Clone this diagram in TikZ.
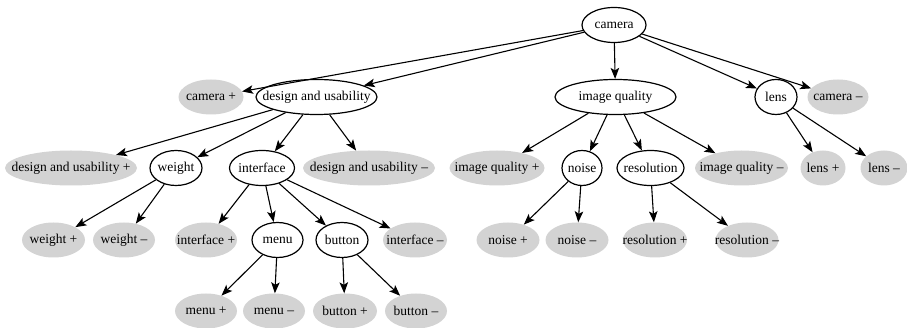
\documentclass[tikz,border=0pt]{standalone}
\usepackage{fontspec}
\setmainfont{Liberation Serif}
\usetikzlibrary{shapes.geometric,arrows.meta}
\definecolor{leafgray}{RGB}{211,211,211}
\newcommand\zl[1]{\makebox[0pt]{#1}}
\tikzset{
  base/.style={ellipse, inner sep=0pt, minimum height=35pt, font=\fontsize{13.5}{15}\selectfont},
  inner/.style={base, draw, line width=1.2pt, fill=white},
  leaf/.style={base, fill=leafgray},
  conn/.style={line width=1.1pt, -{Stealth[length=11pt, width=8.5pt, inset=2.5pt]}}
}
\begin{document}
\begin{tikzpicture}[x=1pt,y=-1pt]
\useasboundingbox (0,0) rectangle (907,328);
% row 1
\node[inner, minimum width=64pt] (cam) at (614,25) {\zl{camera}};
% row 2
\node[leaf, minimum width=65pt] (camp) at (211,97) {\zl{camera +}};
\node[inner, minimum width=121pt] (dau) at (316.5,97) {\zl{design and usability}};
\node[inner, minimum width=121pt] (iq) at (615.5,97) {\zl{image quality}};
\node[inner, minimum width=42pt] (lens) at (776,97) {\zl{lens}};
\node[leaf, minimum width=61pt] (camm) at (838,97) {\zl{camera --}};
% row 3
\node[leaf, minimum width=132pt] (daup) at (71,168) {\zl{design and usability +}};
\node[inner, minimum width=52pt] (wt) at (176,168) {\zl{weight}};
\node[inner, minimum width=65pt] (intf) at (262,168) {\zl{interface}};
\node[leaf, minimum width=132pt] (daum) at (369,168) {\zl{design and usability --}};
\node[leaf, minimum width=95pt] (iqp) at (497,168) {\zl{image quality +}};
\node[inner, minimum width=40pt] (noise) at (582,168) {\zl{noise}};
\node[inner, minimum width=67pt] (res) at (650.5,168) {\zl{resolution}};
\node[leaf, minimum width=93pt] (iqm) at (741.5,168) {\zl{image quality --}};
\node[leaf, minimum width=45pt] (lensp) at (823,168) {\zl{lens +}};
\node[leaf, minimum width=47pt] (lensm) at (884,168) {\zl{lens --}};
% row 4
\node[leaf, minimum width=63pt] (wtp) at (53.5,240) {\zl{weight +}};
\node[leaf, minimum width=62pt] (wtm) at (124,240) {\zl{weight --}};
\node[leaf, minimum width=62pt] (intfp) at (206,240) {\zl{interface +}};
\node[inner, minimum width=51pt] (menu) at (277.5,240) {\zl{menu}};
\node[inner, minimum width=52pt] (btn) at (342,240) {\zl{button}};
\node[leaf, minimum width=64pt] (intfm) at (415,240) {\zl{interface --}};
\node[leaf, minimum width=63pt] (noisep) at (508,240) {\zl{noise +}};
\node[leaf, minimum width=63pt] (noisem) at (577,240) {\zl{noise --}};
\node[leaf, minimum width=64pt] (resp) at (655,240) {\zl{resolution +}};
\node[leaf, minimum width=63pt] (resm) at (747,240) {\zl{resolution --}};
% row 5
\node[leaf, minimum width=62pt] (menup) at (206,311) {\zl{menu +}};
\node[leaf, minimum width=62pt] (menum) at (274,311) {\zl{menu --}};
\node[leaf, minimum width=64pt] (btnp) at (345,311) {\zl{button +}};
\node[leaf, minimum width=62pt] (btnm) at (416,311) {\zl{button --}};
% edges
\foreach \a/\b in {cam/camp, cam/dau, cam/iq, cam/lens, cam/camm,
  dau/daup, dau/wt, dau/intf, dau/daum,
  wt/wtp, wt/wtm,
  intf/intfp, intf/menu, intf/btn, intf/intfm,
  menu/menup, menu/menum, btn/btnp, btn/btnm,
  iq/iqp, iq/noise, iq/res, iq/iqm,
  noise/noisep, noise/noisem, res/resp, res/resm,
  lens/lensp, lens/lensm}
  \draw[conn] (\a) -- (\b);
\end{tikzpicture}
\end{document}
